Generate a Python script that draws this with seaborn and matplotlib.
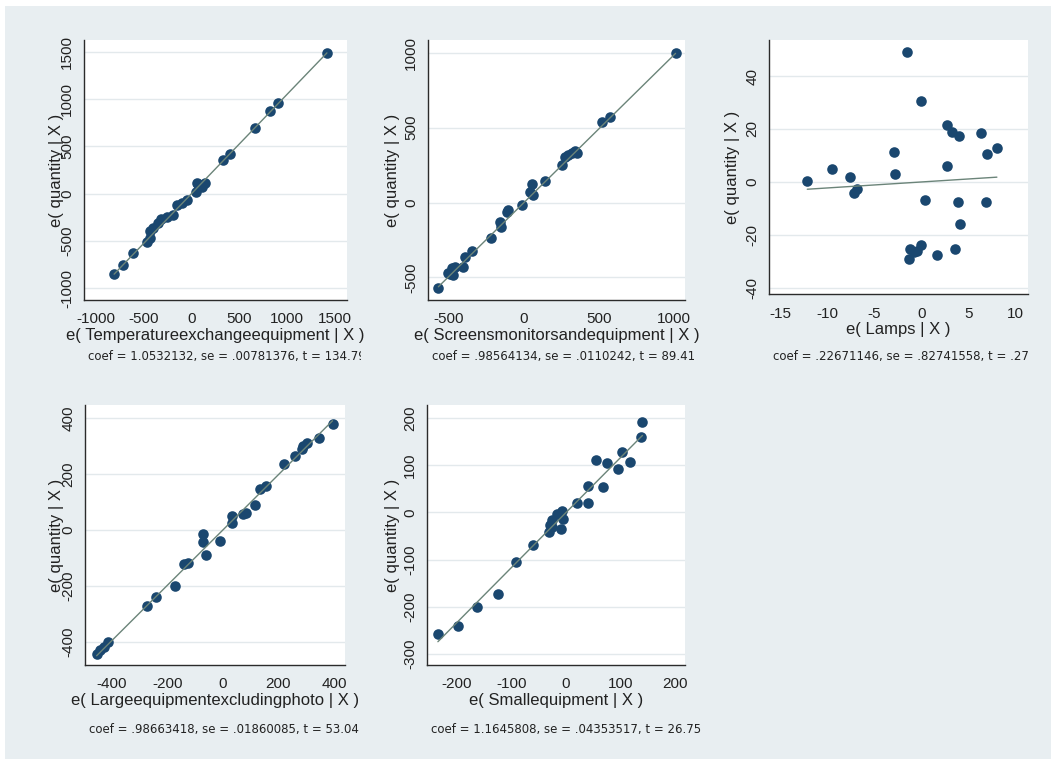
import matplotlib
matplotlib.use("Agg")
import matplotlib.pyplot as plt
import pandas as pd
import seaborn as sns
from matplotlib.patches import Rectangle
from matplotlib.transforms import Bbox, TransformedBbox

# Added-variable residuals: e(regressor | X) and e(quantity | X)
temp_x = [1415, 900, 820, 660, 400, 325, 140, 105, 70, 55, 45, -50, -105, -155,
          -190, -260, -315, -350, -400, -435, -430, -470, -610, -715, -810]
temp_y = [1490, 955, 870, 690, 420, 355, 110, 75, 105, 110, 20, -70, -95, -120,
          -225, -245, -270, -315, -368, -393, -475, -510, -625, -755, -850]

screens_x = [1010, 575, 520, 350, 340, 318, 293, 273, 251, 140, 56, 40, 62, -16,
             -104, -112, -160, -153, -220, -349, -393, -404, -460, -482, -493,
             -471, -509, -571]
screens_y = [1000, 573, 535, 330, 346, 333, 315, 302, 250, 146, 124, 72, 50, -17,
             -50, -62, -128, -161, -239, -322, -366, -433, -429, -440, -478,
             -484, -473, -573]

lamps_x = [-12.1, -9.5, -7.6, -6.8, -7.1, -2.9, -2.8, -1.5, 0.0, 0.4, 2.75, 3.2,
           4.0, 2.75, 6.3, 7.0, 8.0, 3.9, 6.85, 4.1, -1.2, -1.3, -0.5, 0.0, -0.8,
           1.6, 3.6]
lamps_y = [0.5, 4.9, 2.0, -2.8, -4.3, 11.4, 3.0, 48.9, 30.7, -6.8, 21.5, 19.0,
           17.4, 6.0, 18.6, 10.6, 12.9, -7.4, -7.7, -15.8, -25.4, -28.9, -25.9,
           -23.9, -26.5, -27.4, -25.4]

large_x = [395, 346, 302, 289, 284, 259, 220, 155, 133, 115, 85, 73, 31, 31, -11,
           -71, -73, -61, -125, -140, -173, -241, -275, -413, -429, -443, -455]
large_y = [377, 327, 312, 300, 289, 264, 235, 157, 146, 89, 59, 57, 50, 24, -38,
           -14, -42, -89, -119, -121, -200, -240, -271, -399, -417, -429, -444]

small_x = [140, 137, 102, 117, 95, 54, 75, 68, 40, 20, 41, -8, -5, -17, -26, -29,
           -32, -26, -9, -60, -92, -125, -164, -199, -235]
small_y = [191, 160, 127, 107, 93, 111, 105, 54, 56, 21, 21, 4, -13, -3, -15, -27,
           -41, -30, -36, -69, -104, -173, -201, -240, -258]

regressors = ["Temperatureexchangeequipment", "Screensmonitorsandequipment",
              "Lamps", "Largeequipmentexcludingphoto", "Smallequipment"]
coefs = [1.0532132, 0.98564134, 0.22671146, 0.98663418, 1.1645808]
coef_text = ["1.0532132", ".98564134", ".22671146", ".98663418", "1.1645808"]
se_text = [".00781376", ".0110242", ".82741558", ".01860085", ".04353517"]
t_text = ["134.79", "89.41", ".27", "53.04", "26.75"]

x_ticks = [[-1000, -500, 0, 500, 1000, 1500], [-500, 0, 500, 1000],
           [-15, -10, -5, 0, 5, 10], [-400, -200, 0, 200, 400],
           [-200, -100, 0, 100, 200]]
y_ticks = [[-1000, -500, 0, 500, 1000, 1500], [-500, 0, 500, 1000],
           [-40, -20, 0, 20, 40], [-400, -200, 0, 200, 400],
           [-300, -200, -100, 0, 100, 200]]
x_lims = [(-1125, 1625), (-640, 1073), (-16.16, 11.3), (-497, 440), (-255, 218)]
y_lims = [(-1127, 1627), (-651, 1085), (-42.3, 53.6), (-482, 446), (-323, 227.5)]

panels_x = [temp_x, screens_x, lamps_x, large_x, small_x]
panels_y = [temp_y, screens_y, lamps_y, large_y, small_y]

# ---- layout (pixel boxes: left, top, right, bottom) ----
W, H = 1051, 767
boxes = [(84, 40, 347, 300), (428, 40, 685, 300), (769, 40, 1028, 294),
         (85, 405, 345, 665), (427, 405, 685, 665)]
ylabel_px = [57, 392, 733, 56, 392]
note_y_px = [357, 357, 357, 729, 729]
cell_right_px = [361, 705, 1045, 361, 705]

NAVY = "#1a476f"
FIT = "#6b8479"
INK = "#2b2b2b"
BG = "#e8eef1"

sns.set_style("white")
plt.rcParams["font.family"] = ["Liberation Sans", "DejaVu Sans"]
plt.rcParams["axes.unicode_minus"] = False

fig = plt.figure(figsize=(W / 100, H / 100), dpi=100, facecolor="white")
fig.patches.append(Rectangle((5 / W, 1 - 759 / H), 1 - 5 / W, (759 - 6) / H,
                             transform=fig.transFigure, facecolor=BG,
                             edgecolor="none", zorder=-10))

for i in range(5):
    l, t, r, b = boxes[i]
    ax = fig.add_axes([l / W, 1 - b / H, (r - l) / W, (b - t) / H])
    ax.set_facecolor("white")

    df = pd.DataFrame({"ex": panels_x[i], "ey": panels_y[i]})
    sns.scatterplot(data=df, x="ex", y="ey", ax=ax, s=58, color=NAVY,
                    linewidth=0, zorder=3)
    fit = pd.DataFrame({"ex": [df["ex"].min(), df["ex"].max()]})
    fit["ey"] = coefs[i] * fit["ex"]
    sns.lineplot(data=fit, x="ex", y="ey", ax=ax, color=FIT, linewidth=1.0,
                 zorder=4)

    ax.set_xlim(*x_lims[i])
    ax.set_ylim(*y_lims[i])
    ax.set_xticks(x_ticks[i])
    ax.set_yticks(y_ticks[i])
    ax.yaxis.grid(True, color="#e3e9ec", linewidth=1.0)
    ax.xaxis.grid(False)
    ax.set_axisbelow(True)

    for side in ("top", "right"):
        ax.spines[side].set_visible(False)
    for side in ("left", "bottom"):
        ax.spines[side].set_color(INK)
        ax.spines[side].set_linewidth(1.0)

    ax.tick_params(axis="both", direction="out", length=6, width=1.0,
                   color=INK, labelcolor="#222222", labelsize=11)
    ax.tick_params(axis="x", pad=3)
    ax.tick_params(axis="y", pad=1)
    for lab in ax.get_yticklabels():
        lab.set_rotation(90)
        lab.set_va("center")

    ax.set_xlabel(f"e( {regressors[i]} | X )", fontsize=12, color="#222222",
                  labelpad=1)
    ax.set_ylabel("")
    ax.text((ylabel_px[i] - l) / (r - l), 0.5, "e( quantity | X )",
            transform=ax.transAxes, rotation=90, ha="center", va="center",
            fontsize=12, color="#222222")

    note = fig.text((l + 4) / W, 1 - note_y_px[i] / H,
                    f"coef = {coef_text[i]}, se = {se_text[i]}, t = {t_text[i]}",
                    ha="left", va="center", fontsize=8.5, color="#222222",
                    family="DejaVu Sans")
    note.set_clip_box(TransformedBbox(
        Bbox.from_extents(0, 0, cell_right_px[i] / W, 1), fig.transFigure))
    note.set_clip_on(True)

fig.savefig("out.png", dpi=100, facecolor="white")
